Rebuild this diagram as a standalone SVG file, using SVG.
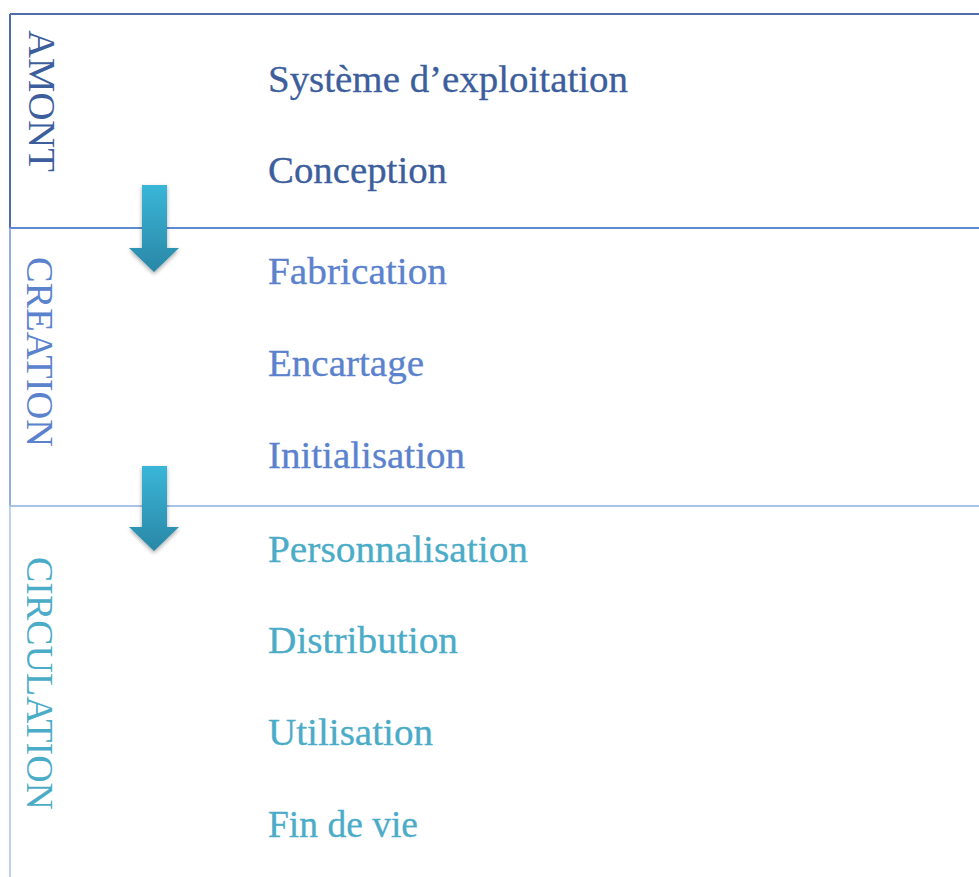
<svg xmlns="http://www.w3.org/2000/svg" width="979" height="877" viewBox="0 0 979 877">
  <defs>
    <linearGradient id="arrowFill" x1="0" y1="0" x2="0" y2="1">
      <stop offset="0" stop-color="#3ab6d8"/>
      <stop offset="1" stop-color="#2a87a6"/>
    </linearGradient>
    <filter id="softShadow" x="-30%" y="-20%" width="160%" height="150%">
      <feGaussianBlur in="SourceAlpha" stdDeviation="2"/>
      <feOffset dx="0" dy="2" result="blur"/>
      <feComponentTransfer><feFuncA type="linear" slope="0.35"/></feComponentTransfer>
      <feMerge><feMergeNode/><feMergeNode in="SourceGraphic"/></feMerge>
    </filter>
  </defs>
  <style>
    .item { font-family: "Liberation Serif", "Times New Roman", serif; font-size: 37px; stroke-width: 0.3px; }
    .band { font-family: "Liberation Serif", "Times New Roman", serif; font-size: 37px; }
    .c1 { fill: #3d5e9c; stroke: #3d5e9c; }
    .c2 { fill: #5b82cd; stroke: #5b82cd; }
    .c3 { fill: #4bacc8; stroke: #4bacc8; }
    .band.c1, .band.c2, .band.c3 { stroke: none; }
    .arrow { fill: url(#arrowFill); filter: url(#softShadow); }
  </style>
  <rect width="979" height="877" fill="#ffffff"/>

  <!-- Band frames -->
  <g id="frames" fill="none">
    <line x1="10" y1="14" x2="979" y2="14" stroke="#4d6ea8" stroke-width="2"/>
    <line x1="10" y1="14" x2="10" y2="228" stroke="#4d6ea8" stroke-width="2"/>
    <line x1="10" y1="228" x2="979" y2="228" stroke="#5d8ad0" stroke-width="2"/>
    <line x1="10" y1="228" x2="10" y2="506" stroke="#6f96d4" stroke-width="1.5"/>
    <line x1="10" y1="506" x2="979" y2="506" stroke="#a8c2e8" stroke-width="2"/>
    <line x1="10" y1="506" x2="10" y2="877" stroke="#a8c2e8" stroke-width="1.5"/>
  </g>

  <!-- Band 1 : AMONT -->
  <g id="amont">
    <text class="band c1" transform="translate(29,30) rotate(90)" textLength="142" lengthAdjust="spacingAndGlyphs">AMONT</text>
    <text class="item c1" x="268" y="92" textLength="360" lengthAdjust="spacingAndGlyphs">Système d’exploitation</text>
    <text class="item c1" x="268" y="183" textLength="179" lengthAdjust="spacingAndGlyphs">Conception</text>
  </g>

  <!-- Band 2 : CREATION -->
  <g id="creation">
    <text class="band c2" transform="translate(27,257) rotate(90)" textLength="190" lengthAdjust="spacingAndGlyphs">CREATION</text>
    <text class="item c2" x="268" y="284" textLength="179" lengthAdjust="spacingAndGlyphs">Fabrication</text>
    <text class="item c2" x="268" y="376" textLength="156" lengthAdjust="spacingAndGlyphs">Encartage</text>
    <text class="item c2" x="268" y="468" textLength="197" lengthAdjust="spacingAndGlyphs">Initialisation</text>
  </g>

  <!-- Band 3 : CIRCULATION -->
  <g id="circulation">
    <text class="band c3" transform="translate(27,557) rotate(90)" textLength="253" lengthAdjust="spacingAndGlyphs">CIRCULATION</text>
    <text class="item c3" x="268" y="562" textLength="260" lengthAdjust="spacingAndGlyphs">Personnalisation</text>
    <text class="item c3" x="268" y="653" textLength="190" lengthAdjust="spacingAndGlyphs">Distribution</text>
    <text class="item c3" x="268" y="745" textLength="165" lengthAdjust="spacingAndGlyphs">Utilisation</text>
    <text class="item c3" x="268" y="837" textLength="150" lengthAdjust="spacingAndGlyphs">Fin de vie</text>
  </g>

  <!-- Down arrows between bands -->
  <g id="connectors">
    <path class="arrow" d="M142,185 H167 V248 H179 L154,272 L129,248 H142 Z"/>
    <path class="arrow" d="M142,466 H167 V527 H179 L154,551 L129,527 H142 Z"/>
  </g>
</svg>
